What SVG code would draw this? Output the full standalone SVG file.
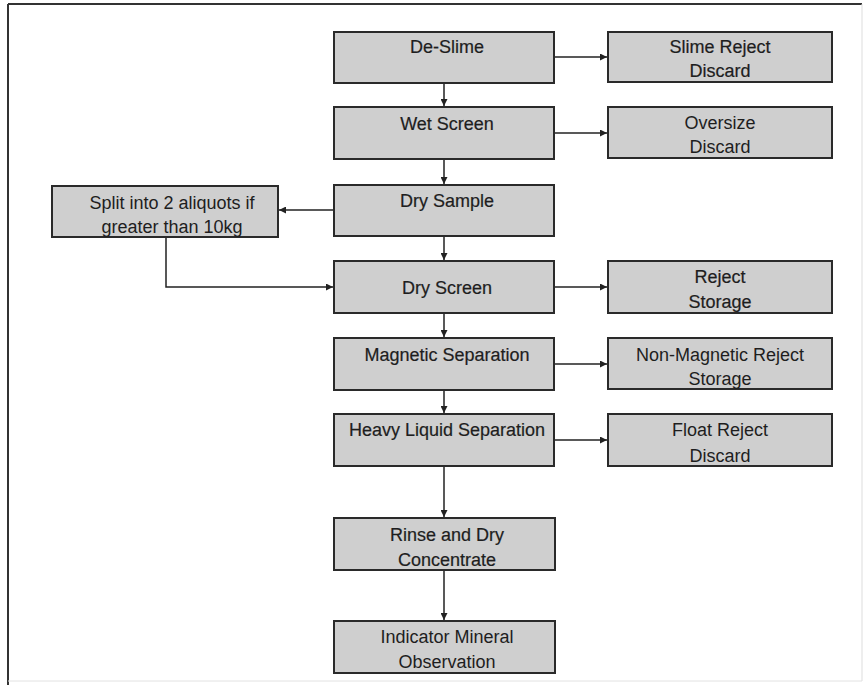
<svg xmlns="http://www.w3.org/2000/svg" width="867" height="685" viewBox="0 0 867 685">
  <defs>
    <marker id="arr" viewBox="0 0 10 10" refX="10" refY="5" markerWidth="7" markerHeight="7" markerUnits="userSpaceOnUse" orient="auto">
      <path d="M0,0 L10,5 L0,10 z" fill="#222"/>
    </marker>
  </defs>
  <style>
    .box { fill: #cfcfcf; stroke: #2a2a2a; stroke-width: 2; }
    .t { font-family: "Liberation Sans", Arial, sans-serif; font-size: 18px; fill: #1e1e1e; text-anchor: middle; }
    .b { stroke: #1e1e1e; stroke-width: 0.2; }
    .c { fill: none; stroke: #222; stroke-width: 1.5; }
  </style>
  <rect x="0" y="0" width="867" height="685" fill="#ffffff"/>
  <g id="frame">
    <line x1="8" y1="4" x2="862" y2="4" stroke="#333" stroke-width="2"/>
    <line x1="8" y1="4" x2="8" y2="685" stroke="#333" stroke-width="2"/>
    <line x1="862" y1="4" x2="862" y2="681" stroke="#ddd" stroke-width="1"/>
    <line x1="8" y1="681" x2="862" y2="681" stroke="#e2e2e2" stroke-width="1"/>
  </g>
  <g id="connectors">
    <line class="c" x1="444" y1="83" x2="444" y2="106" marker-end="url(#arr)"/>
    <line class="c" x1="444" y1="159" x2="444" y2="184" marker-end="url(#arr)"/>
    <line class="c" x1="444" y1="236" x2="444" y2="260" marker-end="url(#arr)"/>
    <line class="c" x1="444" y1="313" x2="444" y2="337" marker-end="url(#arr)"/>
    <line class="c" x1="444" y1="390" x2="444" y2="413" marker-end="url(#arr)"/>
    <line class="c" x1="444" y1="466" x2="444" y2="517" marker-end="url(#arr)"/>
    <line class="c" x1="444" y1="570" x2="444" y2="620" marker-end="url(#arr)"/>
    <line class="c" x1="554" y1="57" x2="607" y2="57" marker-end="url(#arr)"/>
    <line class="c" x1="554" y1="133" x2="607" y2="133" marker-end="url(#arr)"/>
    <line class="c" x1="554" y1="287" x2="607" y2="287" marker-end="url(#arr)"/>
    <line class="c" x1="554" y1="364" x2="607" y2="364" marker-end="url(#arr)"/>
    <line class="c" x1="554" y1="440" x2="607" y2="440" marker-end="url(#arr)"/>
    <line class="c" x1="334" y1="210" x2="279" y2="210" marker-end="url(#arr)"/>
    <polyline class="c" points="166,237 166,287 333,287" marker-end="url(#arr)"/>
  </g>
  <g id="de-slime">
    <rect class="box" x="334" y="32" width="220" height="51"/>
    <text class="t b" x="447" y="53">De-Slime</text>
  </g>
  <g id="slime-reject">
    <rect class="box" x="608" y="32" width="224" height="50"/>
    <text class="t b" x="720" y="53">Slime Reject</text>
    <text class="t b" x="720" y="77">Discard</text>
  </g>
  <g id="wet-screen">
    <rect class="box" x="334" y="107" width="220" height="52"/>
    <text class="t b" x="447" y="130">Wet Screen</text>
  </g>
  <g id="oversize">
    <rect class="box" x="608" y="107" width="224" height="51"/>
    <text class="t" x="720" y="129">Oversize</text>
    <text class="t" x="720" y="153">Discard</text>
  </g>
  <g id="dry-sample">
    <rect class="box" x="334" y="185" width="220" height="51"/>
    <text class="t b" x="447" y="207">Dry Sample</text>
  </g>
  <g id="split">
    <rect class="box" x="52" y="186" width="226" height="51"/>
    <text class="t" x="172" y="209">Split into 2 aliquots if</text>
    <text class="t" x="172" y="233">greater than 10kg</text>
  </g>
  <g id="dry-screen">
    <rect class="box" x="334" y="261" width="220" height="52"/>
    <text class="t b" x="447" y="294">Dry Screen</text>
  </g>
  <g id="reject-storage">
    <rect class="box" x="608" y="261" width="224" height="52"/>
    <text class="t b" x="720" y="283">Reject</text>
    <text class="t b" x="720" y="308">Storage</text>
  </g>
  <g id="magnetic-separation">
    <rect class="box" x="334" y="338" width="220" height="52"/>
    <text class="t b" x="447" y="361">Magnetic Separation</text>
  </g>
  <g id="non-magnetic-reject">
    <rect class="box" x="608" y="338" width="224" height="51"/>
    <text class="t" x="720" y="361">Non-Magnetic Reject</text>
    <text class="t" x="720" y="385">Storage</text>
  </g>
  <g id="heavy-liquid-separation">
    <rect class="box" x="334" y="414" width="220" height="52"/>
    <text class="t b" x="447" y="436">Heavy Liquid Separation</text>
  </g>
  <g id="float-reject">
    <rect class="box" x="608" y="414" width="224" height="52"/>
    <text class="t" x="720" y="436">Float Reject</text>
    <text class="t" x="720" y="462">Discard</text>
  </g>
  <g id="rinse-dry">
    <rect class="box" x="334" y="518" width="221" height="52"/>
    <text class="t b" x="447" y="541">Rinse and Dry</text>
    <text class="t b" x="447" y="566">Concentrate</text>
  </g>
  <g id="indicator-mineral">
    <rect class="box" x="334" y="621" width="221" height="52"/>
    <text class="t" x="447" y="643">Indicator Mineral</text>
    <text class="t" x="447" y="668">Observation</text>
  </g>
</svg>
